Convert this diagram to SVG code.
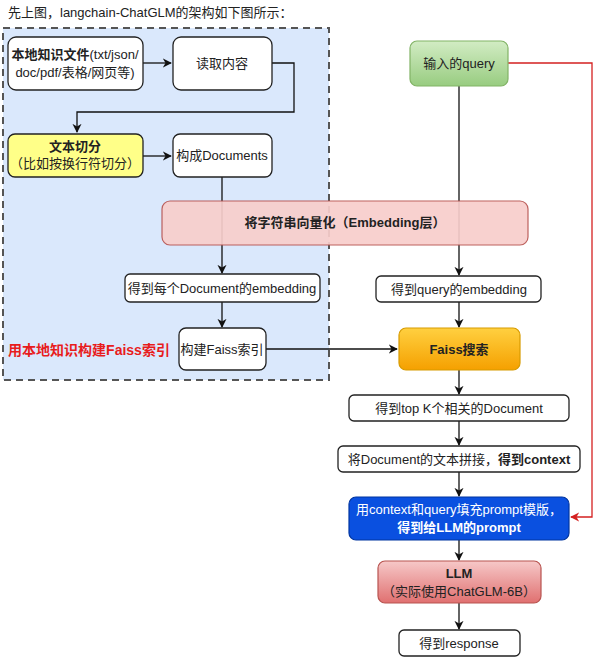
<svg xmlns="http://www.w3.org/2000/svg" width="601" height="666" viewBox="0 0 601 666">
<defs>
<marker id="a" viewBox="0 0 10 10" refX="9" refY="5" markerWidth="7" markerHeight="7" orient="auto"><path d="M0,0 L10,5 L0,10 L3,5 z" fill="#111"/></marker>
<marker id="r" viewBox="0 0 10 10" refX="9" refY="5" markerWidth="7" markerHeight="7" orient="auto"><path d="M0,0 L10,5 L0,10 L3,5 z" fill="#d42020"/></marker>
<linearGradient id="og" x1="0" y1="0" x2="0" y2="1"><stop offset="0" stop-color="#ffd040"/><stop offset="1" stop-color="#f5a000"/></linearGradient>
<linearGradient id="lg" x1="0" y1="0" x2="0" y2="1"><stop offset="0" stop-color="#f6c8c8"/><stop offset="1" stop-color="#e07070"/></linearGradient>
<linearGradient id="gg" x1="0" y1="0" x2="0" y2="1"><stop offset="0" stop-color="#d2ecc4"/><stop offset="1" stop-color="#98cc80"/></linearGradient>
</defs>
<style>
text{font-family:"Liberation Sans","Noto Sans CJK SC",sans-serif;font-size:13px;fill:#222;text-anchor:middle}
.b{font-weight:bold}
.n{fill:#fff;stroke:#222;stroke-width:1.3}
.e{fill:none;stroke:#111;stroke-width:1.3}
</style>
<rect width="601" height="666" fill="#fff"/>
<text x="8" y="17" style="text-anchor:start">先上图，langchain-ChatGLM的架构如下图所示：</text>
<rect x="3" y="28" width="326" height="352" fill="#dae8fc" stroke="#555" stroke-width="2" stroke-dasharray="7,5"/>
<g id="connectors">
<path class="e" d="M143,63 H171" marker-end="url(#a)"/>
<path class="e" d="M272,63 H294 V112 H77 V132" marker-end="url(#a)"/>
<path class="e" d="M143,156 H171" marker-end="url(#a)"/>
<path class="e" d="M222,177 V273" marker-end="url(#a)"/>
<path class="e" d="M222,302 V327" marker-end="url(#a)"/>
<path class="e" d="M266,349 H397" marker-end="url(#a)"/>
<path class="e" d="M459,86 V275" marker-end="url(#a)"/>
<path class="e" d="M459,302 V327" marker-end="url(#a)"/>
<path class="e" d="M459,370 V394" marker-end="url(#a)"/>
<path class="e" d="M459,421 V445" marker-end="url(#a)"/>
<path class="e" d="M459,472 V496" marker-end="url(#a)"/>
<path class="e" d="M459,540 V560" marker-end="url(#a)"/>
<path class="e" d="M459,603 V629" marker-end="url(#a)"/>
<path d="M508,63 H592 V517 H571" fill="none" stroke="#d42020" stroke-width="1.3" marker-end="url(#r)"/>
</g>
<g id="embedding"><rect x="162" y="201" width="366" height="44" rx="8" fill="#f8cecc" stroke="#b85450" stroke-width="1.2" opacity="0.92"/><text x="345" y="227" class="b">将字符串向量化（Embedding层）</text></g>
<g id="files"><rect class="n" x="8" y="37" width="135" height="53" rx="8"/><text x="75" y="59"><tspan class="b">本地知识文件</tspan>(txt/json/</text><text x="75" y="77">doc/pdf/表格/网页等)</text></g>
<g id="read"><rect class="n" x="173" y="37" width="99" height="53" rx="8"/><text x="222" y="68">读取内容</text></g>
<g id="split"><rect x="8" y="134" width="135" height="43" rx="7" fill="#ffff88" stroke="#222" stroke-width="1.3"/><text x="75" y="151" class="b">文本切分</text><text x="75" y="168">（比如按换行符切分）</text></g>
<g id="docs"><rect class="n" x="173" y="134" width="99" height="43" rx="7"/><text x="222" y="160">构成Documents</text></g>
<g id="docemb"><rect class="n" x="125" y="274" width="195" height="28" rx="5"/><text x="222" y="293">得到每个Document的embedding</text></g>
<g id="faissbuild"><rect class="n" x="179" y="328" width="87" height="42" rx="7"/><text x="222" y="354">构建Faiss索引</text></g>
<text x="89" y="355" class="b" style="fill:#e81c1c;font-size:14px">用本地知识构建Faiss索引</text>
<g id="query"><rect x="410" y="41" width="98" height="45" rx="7" fill="url(#gg)" stroke="#82b366" stroke-width="1.2"/><text x="459" y="68">输入的query</text></g>
<g id="qemb"><rect class="n" x="376" y="276" width="165" height="26" rx="5"/><text x="459" y="294">得到query的embedding</text></g>
<g id="faiss"><rect x="399" y="328" width="121" height="42" rx="7" fill="url(#og)" stroke="#d79b00" stroke-width="1.2"/><text x="459" y="354" class="b">Faiss搜索</text></g>
<g id="topk"><rect class="n" x="349" y="395" width="220" height="26" rx="5"/><text x="459" y="413">得到top K个相关的Document</text></g>
<g id="concat"><rect class="n" x="338" y="446" width="242" height="26" rx="5"/><text x="459" y="464">将Document的文本拼接，<tspan class="b">得到context</tspan></text></g>
<g id="prompt"><rect x="349" y="497" width="220" height="43" rx="7" fill="#0a50e0" stroke="#0035a0" stroke-width="1.2"/><text x="459" y="514" style="fill:#fff">用context和query填充prompt模版，</text><text x="459" y="532" class="b" style="fill:#fff">得到给LLM的prompt</text></g>
<g id="llm"><rect x="378" y="561" width="163" height="42" rx="7" fill="url(#lg)" stroke="#b85450" stroke-width="1.2"/><text x="459" y="578" class="b">LLM</text><text x="459" y="596">（实际使用ChatGLM-6B）</text></g>
<g id="response"><rect class="n" x="399" y="630" width="121" height="26" rx="5"/><text x="459" y="648">得到response</text></g>
</svg>
